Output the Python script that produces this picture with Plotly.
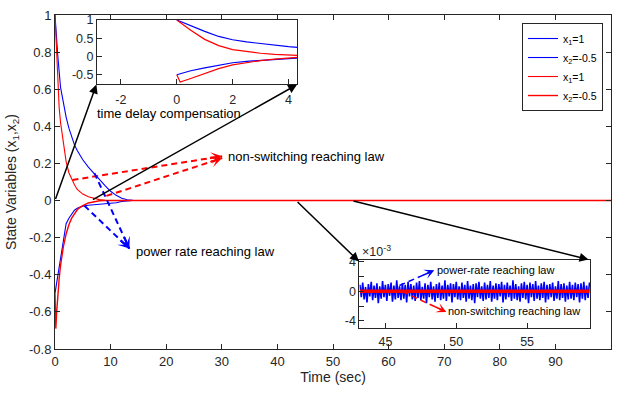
import math
import plotly.graph_objects as go

# ---------------- data ----------------
# main plot, power-rate reaching law (blue)
blue_t1 = [0, 0.25, 0.5, 1, 1.5, 2, 2.5, 3, 3.5, 4, 5, 6, 7, 8, 9, 10, 11, 12, 13, 14, 15, 100]
blue_x1 = [1, 0.88, 0.78, 0.61, 0.52, 0.45, 0.39, 0.34, 0.30, 0.27, 0.22, 0.18, 0.145, 0.11, 0.08,
           0.05, 0.028, 0.012, 0.004, 0.001, 0, 0]
blue_t2 = [0, 0.5, 1, 1.5, 2, 2.5, 3, 3.5, 4, 5, 6, 7, 8, 9, 10, 11, 12, 13, 14, 100]
blue_x2 = [-0.5, -0.4, -0.3, -0.2, -0.125, -0.095, -0.07, -0.052, -0.042, -0.03, -0.025, -0.022,
           -0.02, -0.019, -0.017, -0.012, -0.005, -0.001, 0, 0]
# main plot, non-switching reaching law (red)
red_t1 = [0, 0.25, 0.5, 0.75, 1, 1.5, 2, 2.5, 3, 3.5, 4, 5, 6, 7, 8, 9, 10, 100]
red_x1 = [1, 0.8, 0.63, 0.5, 0.42, 0.3, 0.21, 0.15, 0.115, 0.085, 0.06, 0.035, 0.02, 0.012, 0.005,
          0.001, 0, 0]
red_t2 = [0, 0.15, 0.3, 0.5, 0.75, 1, 1.5, 2, 2.5, 3, 3.5, 4, 4.5, 5, 6, 7, 8, 9, 100]
red_x2 = [-0.5, -0.69, -0.6, -0.5, -0.42, -0.35, -0.25, -0.18, -0.13, -0.095, -0.07, -0.05, -0.037,
          -0.027, -0.013, -0.005, -0.001, 0, 0]

# inset 1: time delay compensation
inset_t = [0, 0.25, 0.5, 1, 1.5, 2, 2.5, 3, 3.5, 4, 4.32]
inset_b1 = [1, 0.92, 0.85, 0.69, 0.55, 0.46, 0.4, 0.35, 0.3, 0.27, 0.25]
inset_r1 = [1, 0.85, 0.72, 0.47, 0.3, 0.19, 0.13, 0.09, 0.06, 0.04, 0.03]
inset_b2 = [-0.5, -0.44, -0.39, -0.31, -0.23, -0.17, -0.13, -0.1, -0.07, -0.055, -0.045]
inset_rt2 = [0, 0.12, 0.5, 1, 1.5, 2, 2.5, 3, 3.5, 4, 4.32]
inset_r2 = [-0.5, -0.7, -0.6, -0.46, -0.33, -0.23, -0.16, -0.11, -0.07, -0.04, -0.025]

# inset 2: steady-state chattering (units of 1e-3)
chat_t0, chat_dt = 43.2, 0.1
blue_chatter = [
    0.9, -0.8, 1.2, -1.1, 0.6, -1.5, 1.0, -0.7, 1.3, -1.2, 0.8, -0.9, 1.1, -1.6, 0.7, -1.0, 1.4, -0.8, 0.9, -1.3,
    1.0, -0.6, 1.2, -1.4, 0.8, -1.1, 1.5, -0.9, 0.7, -1.2, 1.1, -1.0, 0.9, -1.5, 1.3, -0.7, 1.0, -1.1, 0.8, -1.3,
    1.2, -0.9, 1.4, -1.2, 0.6, -1.0, 1.1, -1.6, 0.9, -0.8, 1.3, -1.1, 0.7, -1.4, 1.0, -0.9, 1.2, -1.2, 0.8, -1.0,
    1.5, -1.3, 0.9, -0.7, 1.1, -1.5, 1.0, -0.8, 1.3, -1.1, 0.7, -1.2, 1.2, -0.9, 0.9, -1.4, 1.4, -1.0, 0.8, -1.2,
    1.0, -1.6, 1.1, -0.8, 1.3, -1.0, 0.7, -1.3, 1.2, -1.1, 0.9, -0.9, 1.4, -1.4, 0.8, -1.0, 1.1, -1.2, 1.0, -0.7,
    1.3, -1.5, 0.9, -1.1, 1.2, -0.8, 0.8, -1.3, 1.5, -1.0, 1.0, -1.2, 0.7, -1.4, 1.1, -0.9, 1.3, -1.1, 0.9, -1.6,
    1.2, -0.8, 1.0, -1.3, 1.4, -1.0, 0.8, -1.2, 1.1, -0.9, 1.3, -1.5, 0.9, -1.1, 1.0, -0.8, 1.2, -1.3, 0.7, -1.0,
    1.4, -1.2, 1.0, -0.9, 1.1, -1.4, 0.8, -1.1, 1.3, -1.0, 0.9, -1.2, 1.2, -0.8, 1.0, -1.5, 1.1, -1.0, 1.3, -1.2,
    0.8, -0.9, 1.2]
red_chat_t = [43.2, 59.4]
red_chatter = [0, 0]

x_ticks = [0, 10, 20, 30, 40, 50, 60, 70, 80, 90, 100]
y_ticks = [-0.8, -0.6, -0.4, -0.2, 0, 0.2, 0.4, 0.6, 0.8, 1]
y_ticktext = ["-0.8", "-0.6", "-0.4", "-0.2", "0", "0.2", "0.4", "0.6", "0.8", "1"]

chat_t = [round(chat_t0 + i * chat_dt, 2) for i in range(len(blue_chatter))]

# ---------------- figure ----------------
BLUE = "#0000ff"
RED = "#ff0000"
AX = "#262626"
FONT = "Liberation Sans, Arial, sans-serif"

W, H = 620, 393
ML, MR, MT, MB = 55, 8, 13, 44
PW, PH = W - ML - MR, H - MT - MB

fig = go.Figure()
fig.add_trace(go.Scatter(x=blue_t1, y=blue_x1, mode="lines", line=dict(color=BLUE, width=1.1),
                         name="x<sub>1</sub>=1"))
fig.add_trace(go.Scatter(x=blue_t2, y=blue_x2, mode="lines", line=dict(color=BLUE, width=1.1),
                         name="x<sub>2</sub>=-0.5"))
fig.add_trace(go.Scatter(x=red_t1, y=red_x1, mode="lines", line=dict(color=RED, width=1.1),
                         name="x<sub>1</sub>=1"))
fig.add_trace(go.Scatter(x=red_t2, y=red_x2, mode="lines", line=dict(color=RED, width=1.4),
                         name="x<sub>2</sub>=-0.5"))

# inset 1
for tt, yy, c in [(inset_t, inset_b1, BLUE), (inset_t, inset_b2, BLUE),
                  (inset_t, inset_r1, RED), (inset_rt2, inset_r2, RED)]:
    fig.add_trace(go.Scatter(x=tt, y=yy, mode="lines", line=dict(color=c, width=1.2),
                             showlegend=False, xaxis="x2", yaxis="y2"))
# inset 2
fig.add_trace(go.Scatter(x=chat_t, y=blue_chatter, mode="lines", line=dict(color=BLUE, width=1.6),
                         showlegend=False, xaxis="x3", yaxis="y3"))
fig.add_trace(go.Scatter(x=red_chat_t, y=red_chatter, mode="lines", line=dict(color=RED, width=3.5),
                         showlegend=False, xaxis="x3", yaxis="y3"))


def ax_common(size):
    return dict(showline=True, linecolor=AX, linewidth=1, ticks="inside", ticklen=5,
                tickcolor=AX, showgrid=False, zeroline=False,
                tickfont=dict(family=FONT, size=size, color=AX))


dom = {
    "x": ([0, 1], [0, 1], [0, 100], [-0.8, 1]),
    "x2": ([0.0754, 0.436], [0.792, 0.985], [-2.86, 4.32], [-0.765, 1]),
    "x3": ([0.5476, 0.9623], [0.0625, 0.265], [43.17, 59.44], [-5, 4.2]),
}

fig.update_layout(
    width=W, height=H,
    margin=dict(l=ML, r=MR, t=MT, b=MB),
    paper_bgcolor="white", plot_bgcolor="white",
    font=dict(family=FONT, color="#000"),
    xaxis=dict(ax_common(13), domain=dom["x"][0], range=dom["x"][2], tickvals=x_ticks, mirror="ticks",
               title=dict(text="Time (sec)", font=dict(family=FONT, size=14, color=AX), standoff=3)),
    yaxis=dict(ax_common(13), domain=dom["x"][1], range=dom["x"][3], tickvals=y_ticks, ticktext=y_ticktext,
               mirror="ticks",
               title=dict(text="State Variables (x<sub>1</sub>,x<sub>2</sub>)",
                          font=dict(family=FONT, size=14, color=AX), standoff=9)),
    xaxis2=dict(ax_common(12.5), domain=dom["x2"][0], range=dom["x2"][2], tickvals=[-2, 0, 2, 4],
                ticktext=["-2", "0", "2", "4"], anchor="y2", mirror=True, ticklabelstandoff=4),
    yaxis2=dict(ax_common(12.5), domain=dom["x2"][1], range=dom["x2"][3], tickvals=[-0.5, 0, 0.5, 1],
                ticktext=["-0.5", "0", "0.5", "1"], anchor="x2", mirror=True),
    xaxis3=dict(ax_common(12.5), domain=dom["x3"][0], range=dom["x3"][2], tickvals=[45, 50, 55],
                anchor="y3", mirror=True, ticklabelstandoff=2),
    yaxis3=dict(ax_common(12.5), domain=dom["x3"][1], range=dom["x3"][3], tickvals=[-4, -2, 0, 2, 4],
                ticktext=["-4", "", "0", "", "4"], anchor="x3", mirror=True),
    legend=dict(x=0.9856, y=0.976, xanchor="right", yanchor="top", bgcolor="white",
                bordercolor=AX, borderwidth=1, font=dict(family=FONT, size=10.5, color="#000"),
                itemwidth=30, tracegroupgap=0),
    showlegend=True,
)

annotations = []
shapes = []

# black solid arrows (tail -> head), main axes coordinates
black_arrows = [((0, 0), (7.45, 0.625)), ((6.55, 0), (43.54, 0.625)),
                ((43.36, 0), (54.67, -0.328)), ((53.41, 0), (95.96, -0.318))]
for (x0, y0), (x1, y1) in black_arrows:
    annotations.append(dict(x=x1, y=y1, ax=x0, ay=y0, xref="x", yref="y", axref="x", ayref="y",
                            text="", showarrow=True, arrowhead=2, arrowsize=1.2, arrowwidth=1.5,
                            arrowcolor="black", font=dict(size=1)))


def px_scale(xr):
    xd, yd, xrng, yrng = dom[xr]
    sx = PW * (xd[1] - xd[0]) / (xrng[1] - xrng[0])
    sy = PH * (yd[1] - yd[0]) / (yrng[1] - yrng[0])
    return sx, sy


def dashed_arrow(p0, p1, color, xr, yr, width, size):
    (x0, y0), (x1, y1) = p0, p1
    shapes.append(dict(type="line", x0=x0, y0=y0, x1=x1, y1=y1, xref=xr, yref=yr, layer="above",
                       line=dict(color=color, width=width, dash="6px,4px")))
    sx, sy = px_scale(xr)
    L = math.hypot((x1 - x0) * sx, (y1 - y0) * sy)
    f = 14.0 / L
    annotations.append(dict(x=x1, y=y1, ax=x1 - f * (x1 - x0), ay=y1 - f * (y1 - y0), xref=xr, yref=yr,
                            axref=xr, ayref=yr, text="", showarrow=True, arrowhead=3,
                            arrowsize=size, arrowwidth=width, arrowcolor=color, font=dict(size=1)))


dashed_arrow((3.14, 0.111), (30.07, 0.239), RED, "x", "y", 2, 0.95)
dashed_arrow((9.25, 0.025), (30.07, 0.229), RED, "x", "y", 2, 0.95)
dashed_arrow((5.3, -0.028), (13.38, -0.259), BLUE, "x", "y", 2, 0.95)
dashed_arrow((7.09, 0.148), (13.38, -0.259), BLUE, "x", "y", 2, 0.95)
dashed_arrow((45.99, 0.79), (48.45, 2.86), BLUE, "x3", "y3", 1.5, 1.1)
dashed_arrow((46.2, -0.04), (49.3, -2.8), RED, "x3", "y3", 1.5, 1.1)

texts = [
    ("non-switching reaching law", 30.8, 0.239, "x", "y", 13),
    ("power rate reaching law", 14.27, -0.275, "x", "y", 13),
    ("power-rate reaching law", 48.52, 2.86, "x3", "y3", 11),
    ("non-switching reaching law", 49.3, -2.66, "x3", "y3", 11),
]
for s, x, y, xr, yr, fs in texts:
    annotations.append(dict(x=x, y=y, xref=xr, yref=yr, text=s, showarrow=False, xanchor="left",
                            yanchor="middle", font=dict(family=FONT, size=fs, color="#000")))

annotations.append(dict(x=(95 - ML) / PW, y=(H - MB - 112) / PH, xref="paper", yref="paper",
                        text="time delay compensation", showarrow=False, xanchor="left", yanchor="middle",
                        font=dict(family=FONT, size=13, color="#000")))
annotations.append(dict(x=0.0, y=1.0, xref="x3 domain", yref="y3 domain", text="\u00d710<sup>-3</sup>",
                        showarrow=False, xanchor="left", yanchor="bottom", xshift=1, yshift=-1,
                        font=dict(family=FONT, size=12.5, color=AX)))

fig.update_layout(annotations=annotations, shapes=shapes)
fig.write_html("out.html")
